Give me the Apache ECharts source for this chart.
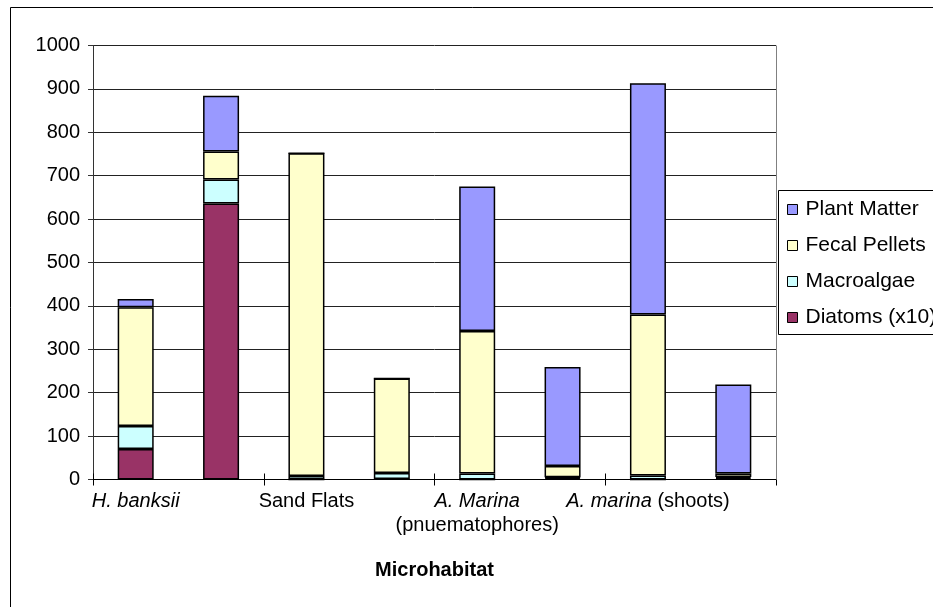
<!DOCTYPE html>
<html>
<head>
<meta charset="utf-8">
<title>Gut contents by microhabitat</title>
<script src="https://cdn.jsdelivr.net/npm/echarts@6/dist/echarts.min.js"></script>
<style>
  html, body { margin: 0; padding: 0; background: #fff; }
  #chart { width: 933px; height: 607px; }
</style>
</head>
<body>
<div id="chart"></div>
<script>
// Eight sample groups; only every other one carries a label on the axis.
const categories = [
  'H. banksii', 'H. banksii (b)',
  'Sand Flats', 'Sand Flats (b)',
  'A. Marina (pnuematophores)', 'A. Marina (pnuematophores) (b)',
  'A. marina (shoots)', 'A. marina (shoots) (b)'
];

// Stacked components, bottom to top
const diatoms      = [70, 636, 0, 1, 0, 3, 0, 3];
const macroalgae   = [53, 55, 8, 14, 14, 2, 9, 3];
const fecalPellets = [274, 65, 744, 218, 328, 26, 371, 8];
const plantMatter  = [19, 128, 0, 0, 333, 228, 533, 205];

const yTicks = { min: 0, max: 1000, step: 100 };
const axisTitle = 'Microhabitat';

const seriesNames = ['Diatoms (x10)', 'Macroalgae', 'Fecal Pellets', 'Plant Matter'];
const seriesColors = ['#993366', '#CCFFFF', '#FFFFCC', '#9999FF'];
const seriesValues = [diatoms, macroalgae, fecalPellets, plantMatter];

// Axis label text with the Latin binomials set in italics
const labelText = {
  0: '{i|H. banksii}',
  2: '{n|Sand Flats}',
  4: '{i|A. Marina}\n{n|(pnuematophores)}',
  6: '{i|A. marina}{n| (shoots)}'
};

const FONT = 'Arial, "Liberation Sans", sans-serif';
const FS = 20;

const chart = echarts.init(document.getElementById('chart'), null, { renderer: 'canvas' });

const grid = { left: 93, right: 157, top: 45.5, bottom: 127.5, containLabel: false };

chart.setOption({
  animation: false,
  backgroundColor: '#fff',
  textStyle: { fontFamily: FONT },
  grid: grid,
  legend: {
    orient: 'vertical',
    left: 787,
    top: 199,
    padding: 0,
    itemWidth: 10,
    itemHeight: 10,
    itemGap: 15,
    icon: 'rect',
    data: ['Plant Matter', 'Fecal Pellets', 'Macroalgae', 'Diatoms (x10)'],
    textStyle: { fontFamily: FONT, fontSize: 21, color: '#000', padding: [0, 0, 0, 3] },
    itemStyle: { borderColor: '#000', borderWidth: 1 }
  },
  xAxis: [
    {
      type: 'category',
      data: categories,
      boundaryGap: true,
      axisLine: { show: true, lineStyle: { color: '#000', width: 1 } },
      axisTick: { show: true, interval: 1, length: 6, inside: false, lineStyle: { color: '#000' } },
      axisLabel: {
        interval: 1,
        margin: 10,
        color: '#000',
        fontFamily: FONT,
        fontSize: FS,
        formatter: function (value, idx) { return labelText[idx] || ''; },
        rich: {
          i: { fontStyle: 'italic', fontSize: FS, fontFamily: FONT, color: '#000', lineHeight: 24 },
          n: { fontSize: FS, fontFamily: FONT, color: '#000', lineHeight: 24 }
        }
      },
      name: axisTitle,
      nameLocation: 'middle',
      nameGap: 81,
      nameTextStyle: { fontFamily: FONT, fontSize: FS, fontWeight: 'bold', color: '#000' },
      splitLine: { show: false }
    },
    {
      // second copy of the axis so the tick marks cross the axis line
      type: 'category',
      data: categories,
      position: 'bottom',
      boundaryGap: true,
      axisLine: { show: false },
      axisTick: { show: true, interval: 1, length: 6, inside: true, lineStyle: { color: '#000' } },
      axisLabel: { show: false },
      splitLine: { show: false }
    }
  ],
  yAxis: {
    type: 'value',
    min: yTicks.min,
    max: yTicks.max,
    interval: yTicks.step,
    axisLine: { show: true, lineStyle: { color: '#333', width: 1 } },
    axisTick: { show: true, length: 5, inside: false, lineStyle: { color: '#333' } },
    axisLabel: {
      margin: 13, color: '#000', fontFamily: FONT, fontSize: FS,
      formatter: function (v) { return String(v); }
    },
    splitLine: { show: true, lineStyle: { color: '#222', width: 1 } }
  },
  series: seriesValues.map(function (vals, k) {
    return {
      name: seriesNames[k],
      type: 'bar',
      stack: 'total',
      xAxisIndex: 0,
      data: vals,
      barWidth: 36,
      itemStyle: { color: seriesColors[k], borderColor: '#000', borderWidth: 1.5 },
      emphasis: { disabled: true }
    };
  }),
  graphic: [
    // outer chart frame
    { type: 'rect', shape: { x: 10.5, y: 7.5, width: 940, height: 620 },
      style: { fill: null, stroke: '#000', lineWidth: 1 }, silent: true, z: 0 },
    // plot area right edge
    { type: 'line', shape: { x1: 776.5, y1: 45.5, x2: 776.5, y2: 479.5 },
      style: { stroke: '#808080', lineWidth: 1 }, silent: true, z: 1 },
    // legend frame
    { type: 'rect', shape: { x: 778.5, y: 190.5, width: 200, height: 144 },
      style: { fill: null, stroke: '#000', lineWidth: 1 }, silent: true, z: 1 }
  ]
});
</script>
</body>
</html>
